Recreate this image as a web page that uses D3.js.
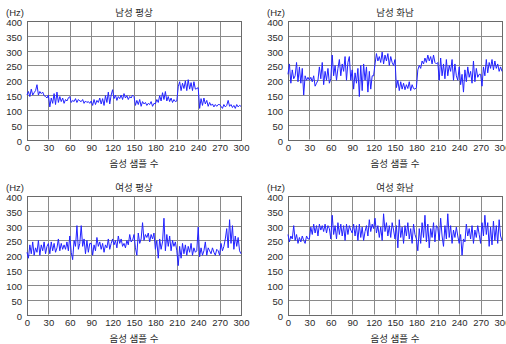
<!DOCTYPE html>
<html>
<head>
<meta charset="utf-8">
<script src="https://cdn.jsdelivr.net/npm/d3@7"></script>
<style>
  body { margin: 0; background: #fff; }
  svg text { font-family: "Liberation Sans", "Noto Sans CJK KR", sans-serif; fill: #2a2a2a; }
</style>
</head>
<body>
<div id="chart"></div>
<script>
// chart values
const titles = ["남성 평상", "남성 화남", "여성 평상", "여성 화남"];
const xLabel = "음성 샘플 수";
const unitLabel = "(Hz)";
const xTicks = [0, 30, 60, 90, 120, 150, 180, 210, 240, 270, 300];
const yTicks = [0, 50, 100, 150, 200, 250, 300, 350, 400];
const sampleStep = 2;

const maleNormal = [
  150, 162, 145, 170, 150, 158, 165, 185, 150, 162, 155, 160, 148, 145, 140,
  150, 110, 140, 122, 155, 118, 160, 125, 145, 128, 140, 122, 135, 130, 140,
  145, 125, 132, 128, 138, 125, 135, 130, 128, 135, 122, 130, 125, 128, 122,
  130, 115, 135, 118, 132, 125, 140, 120, 138, 115, 148, 125, 160, 120, 150,
  168, 138, 150, 132, 145, 138, 150, 135, 155, 140, 148, 135, 145, 140, 150,
  145, 115, 132, 118, 135, 112, 128, 120, 125, 115, 122, 118, 128, 112, 122,
  120, 135, 125, 148, 130, 158, 135, 162, 130, 145, 128, 140, 125, 135, 128,
  130, 178, 195, 165, 190, 172, 198, 165, 202, 170, 192, 165, 195, 170, 172,
  175, 105, 138, 115, 140, 120, 132, 112, 125, 115, 120, 110, 118, 112, 118,
  118, 112, 105, 118, 110, 115, 132, 112, 118, 108, 115, 105, 118, 110, 115,
  112
];
const maleAngry = [
  220, 255, 190, 235, 205, 215, 260, 195, 245, 190, 240, 150, 215, 200, 210,
  200, 210, 195, 215, 180, 190, 200, 245, 205, 260, 185, 230, 200, 240, 190,
  205, 285, 215, 250, 200, 240, 270, 215, 255, 230, 280, 200, 260, 280, 200,
  235, 170, 225, 190, 240, 145, 250, 165, 255, 200, 245, 160, 230, 170, 215,
  215, 255, 290, 265, 280, 260, 295, 255, 285, 265, 290, 250, 280, 260, 250,
  270, 175, 200, 165, 195, 170, 190, 168, 185, 172, 195, 165, 185, 172, 170,
  175, 235, 250, 240, 265, 255, 275, 260, 285, 265, 280, 255, 285, 260, 255,
  260, 200, 275, 215, 255, 205, 270, 215, 250, 230, 270, 200, 255, 215, 200,
  245, 185, 220, 160, 235, 195, 245, 210, 230, 190, 265, 195, 240, 210, 220,
  220, 180, 245, 215, 270, 225, 260, 240, 270, 235, 265, 240, 255, 230, 245,
  230
];
const femaleNormal = [
  210, 190, 235, 205, 245, 200, 225, 210, 250, 200, 235, 215, 245, 205, 230,
  240, 205, 245, 215, 240, 210, 225, 255, 215, 240, 220, 235, 220, 245, 215,
  265, 210, 185, 250, 230, 300, 220, 240, 300, 230, 255, 205, 250, 210, 240,
  240, 200, 235, 215, 260, 230, 245, 220, 240, 210, 235, 225, 255, 220, 240,
  255, 235, 250, 225, 265, 240, 255, 230, 240, 225, 250, 235, 270, 245, 250,
  270, 225, 200, 275, 240, 255, 310, 250, 270, 260, 275, 245, 270, 255, 275,
  220, 250, 190, 255, 220, 245, 325, 215, 270, 230, 265, 215, 250, 230, 245,
  215, 165, 230, 190, 240, 205, 235, 200, 230, 210, 240, 200, 225, 210, 215,
  295, 195, 225, 200, 215, 245, 200, 225, 215, 205, 225, 210, 200, 220, 215,
  200, 240, 215, 230, 255, 290, 225, 320, 240, 300, 220, 265, 230, 260, 215,
  205
];
const femaleAngry = [
  270, 245, 265, 255, 300, 250, 270, 240, 260, 245, 265, 250, 240, 265, 255,
  255, 295, 270, 305, 275, 300, 265, 305, 285, 300, 280, 305, 275, 300, 290,
  255, 335, 270, 300, 255, 310, 270, 305, 265, 300, 250, 305, 270, 300, 285,
  275, 305, 265, 300, 250, 305, 260, 295, 250, 280, 300, 265, 320, 280, 305,
  290, 325, 275, 300, 260, 295, 250, 340, 280, 310, 265, 300, 260, 310, 285,
  255, 300, 225, 320, 260, 295, 240, 300, 265, 310, 255, 290, 240, 305, 270,
  255, 215, 290, 240, 310, 260, 335, 245, 305, 225, 290, 260, 310, 245, 300,
  290, 250, 325, 265, 230, 300, 255, 340, 260, 300, 240, 285, 260, 295, 265,
  240, 270, 200, 255, 245, 305, 265, 290, 255, 300, 240, 285, 260, 300, 270,
  240, 310, 265, 335, 270, 310, 230, 295, 235, 315, 250, 300, 240, 320, 265,
  250
];
const seriesList = [maleNormal, maleAngry, femaleNormal, femaleAngry];

// layout
const W = 506, H = 344;
const panelLeft = [27, 288];
const panelTop = [21, 196];
const pw = 214, ph = 118.5;

const svg = d3.select("#chart").append("svg")
  .attr("width", W)
  .attr("height", H);

const x = d3.scaleLinear().domain([0, 300]).range([0, pw]);
const y = d3.scaleLinear().domain([0, 400]).range([ph, 0]);

seriesList.forEach((values, k) => {
  const col = k % 2, row = Math.floor(k / 2);
  const g = svg.append("g")
    .attr("transform", "translate(" + panelLeft[col] + "," + panelTop[row] + ")");

  // grid
  g.append("g")
    .selectAll("line")
    .data(xTicks)
    .enter()
    .append("line")
    .attr("x1", d => Math.round(x(d)) + 0.5)
    .attr("x2", d => Math.round(x(d)) + 0.5)
    .attr("y1", 0)
    .attr("y2", ph)
    .attr("stroke", "#8a8a8a");
  g.append("g")
    .selectAll("line")
    .data(yTicks)
    .enter()
    .append("line")
    .attr("x1", 0)
    .attr("x2", pw)
    .attr("y1", d => Math.round(y(d)) + 0.5)
    .attr("y2", d => Math.round(y(d)) + 0.5)
    .attr("stroke", "#8a8a8a");

  g.append("rect")
    .attr("x", 0.5).attr("y", 0.5)
    .attr("width", pw).attr("height", Math.round(ph))
    .attr("fill", "none")
    .attr("stroke", "#6a6a6a");

  // tick labels
  g.selectAll("text.yt")
    .data(yTicks)
    .enter()
    .append("text")
    .attr("x", -5)
    .attr("y", d => y(d) + 5)
    .attr("text-anchor", "end")
    .attr("font-size", 9.5)
    .text(d => d);
  g.selectAll("text.xt")
    .data(xTicks)
    .enter()
    .append("text")
    .attr("x", d => x(d) + 0.5)
    .attr("y", ph + 11.5)
    .attr("text-anchor", "middle")
    .attr("font-size", 9.5)
    .text(d => d);

  // titles
  g.append("text")
    .attr("x", pw / 2)
    .attr("y", -5)
    .attr("text-anchor", "middle")
    .attr("font-size", 9.5)
    .text(titles[k]);
  g.append("text")
    .attr("x", -21)
    .attr("y", -5)
    .attr("font-size", 9.5)
    .text(unitLabel);
  g.append("text")
    .attr("x", pw / 2)
    .attr("y", ph + 27)
    .attr("text-anchor", "middle")
    .attr("font-size", 9.5)
    .text(xLabel);

  // line
  const line = d3.line()
    .x((d, i) => x(i * sampleStep))
    .y(d => y(d));
  g.append("path")
    .datum(values)
    .attr("d", line)
    .attr("fill", "none")
    .attr("stroke", "#2222ff")
    .attr("stroke-width", 1);
});
</script>
</body>
</html>
